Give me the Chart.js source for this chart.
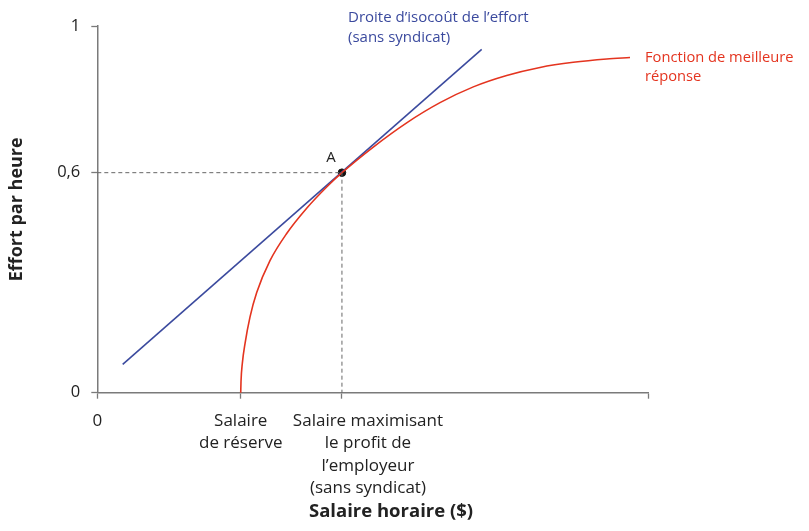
<!DOCTYPE html>
<html>
<head>
<meta charset="utf-8">
<script src="https://cdn.jsdelivr.net/npm/chart.js@4.4.1/dist/chart.umd.min.js"></script>
<style>
  html, body { margin: 0; padding: 0; background: #ffffff; }
  #wrap { width: 809px; height: 531px; position: relative; }
</style>
</head>
<body>
<div id="wrap"><canvas id="c" width="809" height="531"></canvas></div>
<script>
// ---- Data ----
const xTickValues = [0, 26.03, 44.4, 100];
const xTickLabels = [["0"], ["Salaire", "de réserve"], ["Salaire maximisant", "le profit de", "l’employeur", "(sans syndicat)"], [""]];
const yTickValues = [0, 0.6, 1];
const yTickLabels = ["0", "0,6", "1"];

const bestResponseX = [26.03, 26.08, 26.32, 26.81, 27.71, 28.93, 31.34, 34.37, 38.0, 41.63, 44.4, 50.09, 56.15, 62.2, 68.24, 74.3, 80.34, 86.39, 92.45, 96.68];
const bestResponseY = [0, 0.03, 0.08, 0.134, 0.206, 0.273, 0.36, 0.434, 0.503, 0.561, 0.6, 0.67, 0.736, 0.791, 0.834, 0.865, 0.887, 0.901, 0.91, 0.914];

const isocostX = [4.61, 69.76];
const isocostY = [0.077, 0.936];

const pointA = { x: 44.4, y: 0.6 };

const FONT = "'Open Sans', 'Noto Sans', sans-serif";
const BLUE = '#3b4a9e';
const RED = '#e4341f';
const AXIS = '#7a7a7a';
const TEXT = '#222222';

const zip = (xs, ys) => xs.map((x, i) => ({ x: x, y: ys[i] }));

// horizontal shift of each x label block relative to its tick (style)
const xLabelShift = [0, 0, 26, 0];

const annotations = {
  id: 'annotations',
  afterDraw(chart) {
    const ctx = chart.ctx;
    const xs = chart.scales.x, ys = chart.scales.y;
    ctx.save();
    ctx.textBaseline = 'middle';

    // x tick labels
    ctx.font = '17px ' + FONT;
    ctx.fillStyle = TEXT;
    ctx.textAlign = 'center';
    xTickValues.forEach((v, i) => {
      const px = xs.getPixelForValue(v) + xLabelShift[i];
      xTickLabels[i].forEach((line, k) => {
        ctx.fillText(line, px, 421 + k * 22.4);
      });
    });

    // x axis title
    ctx.font = 'bold 18.5px ' + FONT;
    ctx.fillText('Salaire horaire ($)', 391, 512);

    // annotations
    ctx.font = '15px ' + FONT;
    ctx.fillStyle = BLUE;
    ctx.textAlign = 'left';
    ctx.fillText('Droite d’isocoût de l’effort', 348, 18);
    ctx.fillText('(sans syndicat)', 348, 38);
    ctx.font = '14.7px ' + FONT;
    ctx.fillStyle = RED;
    ctx.fillText('Fonction de meilleure', 645, 58);
    ctx.fillText('réponse', 645, 77);
    ctx.fillStyle = TEXT;
    ctx.font = '15px ' + FONT;
    ctx.textAlign = 'center';
    ctx.fillText('A', xs.getPixelForValue(pointA.x) - 11, ys.getPixelForValue(pointA.y) - 15);
    ctx.restore();
  }
};

new Chart(document.getElementById('c'), {
  type: 'scatter',
  data: {
    datasets: [
      {
        label: 'h-dash',
        data: [{ x: 0, y: pointA.y }, { x: pointA.x, y: pointA.y }],
        showLine: true, borderColor: '#666', borderWidth: 1, borderDash: [4, 3],
        pointRadius: 0, clip: false
      },
      {
        label: 'v-dash',
        data: [{ x: pointA.x, y: pointA.y }, { x: pointA.x, y: 0 }],
        showLine: true, borderColor: '#666', borderWidth: 1, borderDash: [4, 3],
        pointRadius: 0, clip: false
      },
      {
        label: 'Fonction de meilleure réponse',
        data: zip(bestResponseX, bestResponseY),
        showLine: true, borderColor: RED, borderWidth: 1.6,
        cubicInterpolationMode: 'monotone',
        pointRadius: 0, clip: false
      },
      {
        label: 'Droite d’isocoût',
        data: zip(isocostX, isocostY),
        showLine: true, borderColor: BLUE, borderWidth: 1.6,
        pointRadius: 0, clip: false
      },
      {
        label: 'A',
        data: [pointA],
        showLine: false, pointRadius: 3.8, pointBackgroundColor: '#111', pointBorderColor: '#111',
        clip: false
      }
    ]
  },
  options: {
    responsive: false,
    animation: false,
    devicePixelRatio: 1,
    layout: { padding: { top: 26, right: 160.7, left: 0, bottom: 0 } },
    plugins: { legend: { display: false }, tooltip: { enabled: false } },
    scales: {
      x: {
        type: 'linear', min: 0, max: 100,
        afterFit: (s) => { s.height = 531 - 392.7; },
        afterBuildTicks: (s) => { s.ticks = xTickValues.map(v => ({ value: v })); },
        ticks: { display: false, autoSkip: false },
        grid: { drawOnChartArea: false, drawTicks: true, tickLength: 6, color: AXIS, tickWidth: 1.3 },
        border: { display: true, color: AXIS, width: 1.5 },
        title: { display: false }
      },
      y: {
        type: 'linear', min: 0, max: 1,
        afterFit: (s) => { s.width = 97.3; },
        afterBuildTicks: (s) => { s.ticks = yTickValues.map(v => ({ value: v })); },
        ticks: {
          autoSkip: false, padding: 11,
          color: TEXT, font: { family: FONT, size: 16.5 },
          callback: (v, i) => yTickLabels[i]
        },
        grid: { drawOnChartArea: false, drawTicks: true, tickLength: 6, color: AXIS, tickWidth: 1.3 },
        border: { display: true, color: AXIS, width: 1.5 },
        title: {
          display: true, text: 'Effort par heure', color: TEXT,
          font: { family: FONT, size: 18, weight: 'bold' }, padding: { top: 6, bottom: 0 }
        }
      }
    }
  },
  plugins: [annotations]
});
</script>
</body>
</html>
